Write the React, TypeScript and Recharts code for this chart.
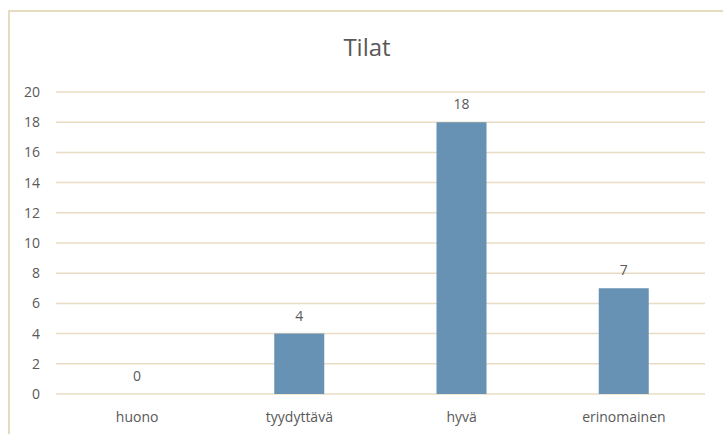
import React from "react";
import { ComposedChart, Bar, Scatter, XAxis, YAxis, CartesianGrid } from "recharts";

const categories = ["huono", "tyydyttävä", "hyvä", "erinomainen"];
const counts = [0, 4, 18, 7];
const yTicks = [0, 2, 4, 6, 8, 10, 12, 14, 16, 18, 20];

const data = categories.map((name, i) => ({ name, count: counts[i] }));

const font = "'Open Sans', Lato, sans-serif";
const textColor = "#595959";

// value text above each bar; drawn through a scatter so the zero bar gets one too
const ValueLabel = (props: any) => {
  const { cx, cy, payload } = props;
  if (cx == null || cy == null) return null;
  return (
    <text
      x={cx}
      y={cy - 13}
      textAnchor="middle"
      fill={textColor}
      fontSize={14}
      fontFamily={font}
    >
      {payload.count}
    </text>
  );
};

export default function App() {
  return (
    <div style={{ position: "absolute", left: 0, top: 0, width: 723, height: 434, background: "#fff", overflow: "hidden", fontFamily: font }}>
      <div
        style={{
          position: "absolute",
          left: 8,
          top: 10,
          width: 760,
          height: 460,
          border: "2px solid #e6dac0",
          boxSizing: "border-box",
        }}
      />
      <div
        style={{
          position: "absolute",
          left: 0,
          width: 734,
          top: 30,
          textAlign: "center",
          fontSize: 24,
          color: textColor,
        }}
      >
        Tilat
      </div>
      <div style={{ position: "absolute", left: 0, top: 0 }}>
        <ComposedChart
          width={723}
          height={434}
          data={data}
          margin={{ top: 92, right: 18, bottom: 0, left: 0 }}
        >
          <CartesianGrid vertical={false} stroke="#e8dcc3" strokeWidth={1.5} />
          <XAxis
            dataKey="name"
            axisLine={false}
            tickLine={false}
            height={40}
            tickMargin={12}
            tick={{ fill: textColor, fontSize: 14, fontFamily: font }}
          />
          <YAxis
            domain={[0, 20]}
            ticks={yTicks}
            width={56}
            axisLine={false}
            tickLine={false}
            tickMargin={10}
            tick={{ fill: textColor, fontSize: 14, fontFamily: font }}
          />
          <Bar dataKey="count" fill="#6792b4" barSize={50} isAnimationActive={false} />
          <Scatter dataKey="count" shape={ValueLabel} isAnimationActive={false} />
        </ComposedChart>
      </div>
    </div>
  );
}
